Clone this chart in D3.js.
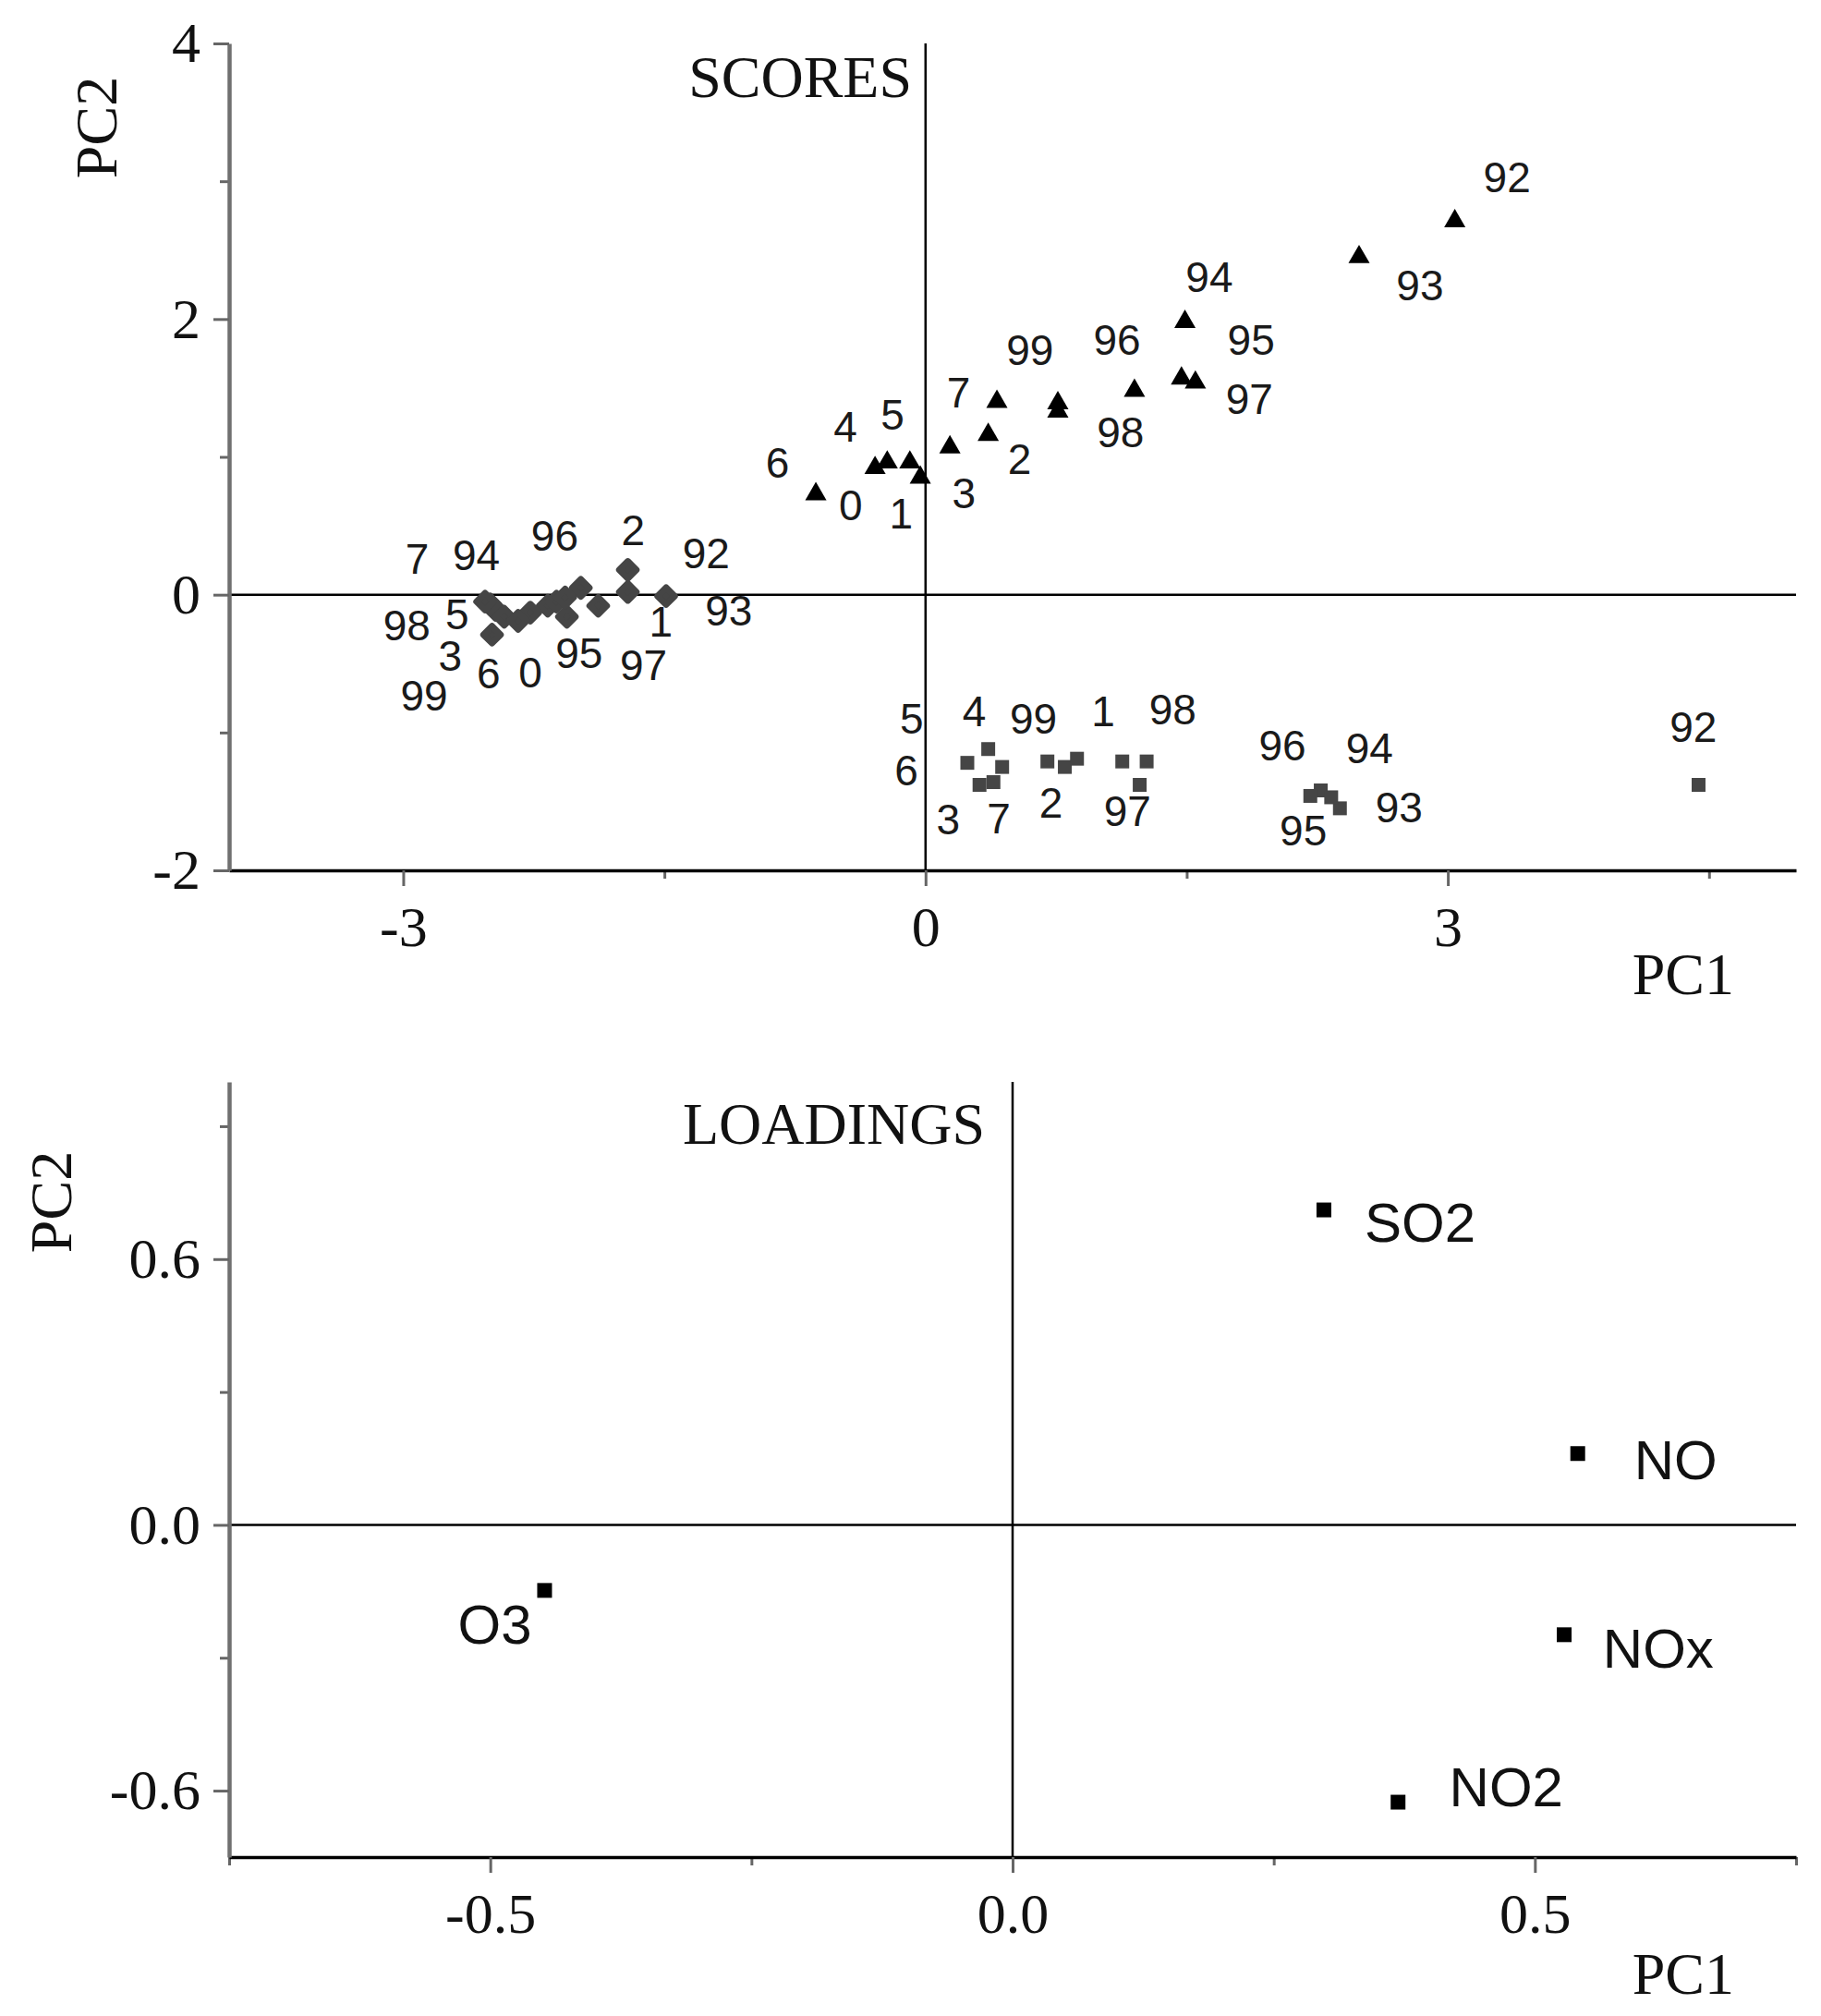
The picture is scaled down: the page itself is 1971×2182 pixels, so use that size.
<!DOCTYPE html>
<html>
<head>
<meta charset="utf-8">
<title>PCA scores and loadings</title>
<script src="https://d3js.org/d3.v7.min.js"></script>
<style>
  body { margin: 0; background: #fff; }
  .tick text { font-family: "Liberation Serif", "Times New Roman", serif; font-size: 62px; fill: #111; }
  .ptlab { font-family: "Liberation Sans", Arial, sans-serif; font-size: 46px; fill: #1a1a1a; }
  .loadlab { font-family: "Liberation Sans", Arial, sans-serif; font-size: 60px; fill: #111; }
  .ttl { font-family: "Liberation Serif", "Times New Roman", serif; font-size: 64px; fill: #111; }
</style>
</head>
<body>
<div id="chart"></div>
<script>
// ---- data ----
var years = ["92","93","94","95","96","97","98","99","0","1","2","3","4","5","6","7"];

// triangles (black)
var triPc1 = [3.04, 2.49, 1.49, 1.47, 1.20, 1.55, 0.76, 0.76, -0.09, -0.03, 0.36, 0.14, -0.29, -0.22, -0.63, 0.41];
var triPc2 = [2.71, 2.45, 1.98, 1.57, 1.48, 1.54, 1.33, 1.39, 0.96, 0.85, 1.16, 1.07, 0.92, 0.96, 0.73, 1.40];
var triLabPc1 = [3.34, 2.84, 1.63, 1.87, 1.10, 1.86, 1.12, 0.60, -0.43, -0.14, 0.54, 0.22, -0.46, -0.19, -0.85, 0.19];
var triLabPc2 = [3.03, 2.25, 2.31, 1.85, 1.85, 1.42, 1.18, 1.78, 0.65, 0.59, 0.99, 0.74, 1.22, 1.31, 0.96, 1.47];

// diamonds (grey)
var diaPc1 = [-1.49, -1.71, -2.47, -2.06, -2.17, -1.88, -2.50, -2.49, -2.27, -1.98, -1.71, -2.42, -2.12, -2.53, -2.34, -2.07];
var diaPc2 = [-0.01, 0.02, -0.11, -0.16, -0.08, -0.08, -0.07, -0.29, -0.13, 0.05, 0.18, -0.16, -0.05, -0.05, -0.19, -0.02];
var diaLabels = ["92","93","94","95","96","97","98","99","0","1","2","3","","5","6","7"];
var diaLabPc1 = [-1.26, -1.13, -2.58, -1.99, -2.13, -1.62, -2.98, -2.88, -2.27, -1.52, -1.68, -2.73, 0, -2.69, -2.51, -2.92];
var diaLabPc2 = [0.30, -0.11, 0.29, -0.42, 0.43, -0.51, -0.22, -0.73, -0.56, -0.19, 0.47, -0.44, 0, -0.14, -0.57, 0.26];

// squares (grey)
var sqPc1 = [4.44, 2.38, 2.27, 2.21, 2.33, 1.23, 1.27, 0.70, 0.80, 1.13, 0.87, 0.31, 0.36, 0.24, 0.44, 0.39];
var sqPc2 = [-1.38, -1.55, -1.42, -1.46, -1.47, -1.38, -1.21, -1.21, -1.25, -1.21, -1.19, -1.38, -1.12, -1.22, -1.25, -1.36];
var sqLabels = ["92","93","94","95","96","97","98","99","","1","2","3","4","5","6","7"];
var sqLabPc1 = [4.41, 2.72, 2.55, 2.17, 2.05, 1.16, 1.42, 0.62, 0, 1.02, 0.72, 0.13, 0.28, -0.08, -0.11, 0.42];
var sqLabPc2 = [-0.96, -1.54, -1.11, -1.71, -1.09, -1.57, -0.83, -0.90, 0, -0.84, -1.51, -1.63, -0.84, -0.90, -1.27, -1.62];

// loadings
var pollutants = ["SO2", "NO", "NOx", "NO2", "O3"];
var loadPc1 = [0.298, 0.541, 0.528, 0.369, -0.448];
var loadPc2 = [0.711, 0.161, -0.248, -0.626, -0.148];
var loadLabPc1 = [0.337, 0.595, 0.565, 0.418, -0.531];
var loadLabPc2 = [0.640, 0.103, -0.323, -0.636, -0.268];

// axes
var scoreXDomain = [-4, 5], scoreYDomain = [-2, 4];
var scoreXMajor = [-3, 0, 3], scoreXMinor = [-1.5, 1.5, 4.5];
var scoreXTickLabels = ["-3", "0", "3"];
var scoreYMajor = [-2, 0, 2, 4], scoreYMinor = [-1, 1, 3];
var scoreYTickLabels = ["-2", "0", "2", "4"];

var loadXDomain = [-0.75, 0.75], loadYDomain = [-0.75, 1.0];
var loadXMajor = [-0.5, 0, 0.5], loadXMinor = [-0.75, -0.25, 0.25, 0.75];
var loadXTickLabels = ["-0.5", "0.0", "0.5"];
var loadYMajor = [-0.6, 0, 0.6], loadYMinor = [-0.3, 0.3, 0.9];
var loadYTickLabels = ["-0.6", "0.0", "0.6"];

// ---- drawing ----
var W = 1971, H = 2182;
var svg = d3.select("#chart").append("svg")
    .attr("width", W).attr("height", H);
svg.append("rect").attr("width", W).attr("height", H).attr("fill", "#fff");

function panel(o) {
    var x = d3.scaleLinear().domain(o.xDomain).range([248, 1944]);
    var y = d3.scaleLinear().domain(o.yDomain).range([o.bottom, o.top]);
    var g = svg.append("g");

    // zero lines
    g.append("line").attr("x1", x.range()[0]).attr("x2", x.range()[1])
        .attr("y1", y(0)).attr("y2", y(0)).attr("stroke", "#000").attr("stroke-width", 2.5);
    g.append("line").attr("x1", x(0)).attr("x2", x(0))
        .attr("y1", o.top).attr("y2", o.bottom).attr("stroke", "#000").attr("stroke-width", 2.5);

    // minor ticks
    g.append("g").attr("transform", "translate(0," + o.bottom + ")")
        .call(d3.axisBottom(x).tickValues(o.xMinor).tickSize(9).tickSizeOuter(0).tickFormat(""))
        .call(a => a.select(".domain").remove());
    g.append("g").attr("transform", "translate(" + x.range()[0] + ",0)")
        .call(d3.axisLeft(y).tickValues(o.yMinor).tickSize(10).tickSizeOuter(0).tickFormat(""))
        .call(a => a.select(".domain").remove());

    // major axes
    var xa = g.append("g").attr("transform", "translate(0," + o.bottom + ")")
        .call(d3.axisBottom(x).tickValues(o.xMajor).tickSize(17).tickPadding(21).tickSizeOuter(0)
            .tickFormat((d, i) => o.xLabels[i]));
    xa.select(".domain").attr("stroke", "#000").attr("stroke-width", 3.5);
    var ya = g.append("g").attr("transform", "translate(" + x.range()[0] + ",0)")
        .call(d3.axisLeft(y).tickValues(o.yMajor).tickSize(17).tickPadding(14).tickSizeOuter(0)
            .tickFormat((d, i) => o.yLabels[i]));
    ya.select(".domain").attr("stroke", "#707070").attr("stroke-width", 4.5);
    g.selectAll(".tick line").attr("stroke", "#666").attr("stroke-width", 3);
    g.selectAll(".tick text").attr("fill", "#111");

    return {x: x, y: y, g: g};
}

// scores panel
var s = panel({
    xDomain: scoreXDomain, yDomain: scoreYDomain, top: 47, bottom: 942,
    xMajor: scoreXMajor, xMinor: scoreXMinor, xLabels: scoreXTickLabels,
    yMajor: scoreYMajor, yMinor: scoreYMinor, yLabels: scoreYTickLabels
});

var triSym = d3.symbol().type(d3.symbolTriangle).size(230);
var sqSym = d3.symbol().type(d3.symbolSquare).size(225);
var diaSym = d3.symbol().type(d3.symbolSquare).size(170);

// grey diamonds, rounded like the blurred originals
s.g.append("g").selectAll("path").data(diaPc1).join("path")
    .attr("d", diaSym)
    .attr("transform", (d, i) => "translate(" + s.x(d) + "," + s.y(diaPc2[i]) + ") rotate(45)")
    .attr("fill", "#454545").attr("stroke", "#454545").attr("stroke-width", 7).attr("stroke-linejoin", "round");

s.g.append("g").selectAll("path").data(sqPc1).join("path")
    .attr("d", sqSym)
    .attr("transform", (d, i) => "translate(" + s.x(d) + "," + s.y(sqPc2[i]) + ")")
    .attr("fill", "#454545");

s.g.append("g").selectAll("path").data(triPc1).join("path")
    .attr("d", triSym)
    .attr("transform", (d, i) => "translate(" + s.x(d) + "," + s.y(triPc2[i]) + ")")
    .attr("fill", "#000");

function pointLabels(g, labels, lx, ly, x, y) {
    g.append("g").selectAll("text").data(labels).join("text")
        .attr("class", "ptlab")
        .attr("x", (d, i) => x(lx[i]))
        .attr("y", (d, i) => y(ly[i]))
        .attr("dy", "0.36em")
        .attr("text-anchor", "middle")
        .text(d => d);
}
pointLabels(s.g, years, triLabPc1, triLabPc2, s.x, s.y);
pointLabels(s.g, diaLabels, diaLabPc1, diaLabPc2, s.x, s.y);
pointLabels(s.g, sqLabels, sqLabPc1, sqLabPc2, s.x, s.y);

svg.append("text").attr("class", "ttl").attr("x", 987).attr("y", 105)
    .attr("text-anchor", "end").text("SCORES");
svg.append("text").attr("class", "ttl").attr("x", 1877).attr("y", 1076)
    .attr("text-anchor", "end").text("PC1");
svg.append("text").attr("class", "ttl")
    .attr("transform", "translate(126,138) rotate(-90)")
    .attr("text-anchor", "middle").text("PC2");

// loadings panel
var l = panel({
    xDomain: loadXDomain, yDomain: loadYDomain, top: 1171, bottom: 2010,
    xMajor: loadXMajor, xMinor: loadXMinor, xLabels: loadXTickLabels,
    yMajor: loadYMajor, yMinor: loadYMinor, yLabels: loadYTickLabels
});

var loadSym = d3.symbol().type(d3.symbolSquare).size(256);
l.g.append("g").selectAll("path").data(loadPc1).join("path")
    .attr("d", loadSym)
    .attr("transform", (d, i) => "translate(" + l.x(d) + "," + l.y(loadPc2[i]) + ")")
    .attr("fill", "#000");

l.g.append("g").selectAll("text").data(pollutants).join("text")
    .attr("class", "loadlab")
    .attr("x", (d, i) => l.x(loadLabPc1[i]))
    .attr("y", (d, i) => l.y(loadLabPc2[i]))
    .text(d => d);

svg.append("text").attr("class", "ttl").attr("x", 1066).attr("y", 1238)
    .attr("text-anchor", "end").text("LOADINGS");
svg.append("text").attr("class", "ttl").attr("x", 1877).attr("y", 2158)
    .attr("text-anchor", "end").text("PC1");
svg.append("text").attr("class", "ttl")
    .attr("transform", "translate(77,1301) rotate(-90)")
    .attr("text-anchor", "middle").text("PC2");
</script>
</body>
</html>
